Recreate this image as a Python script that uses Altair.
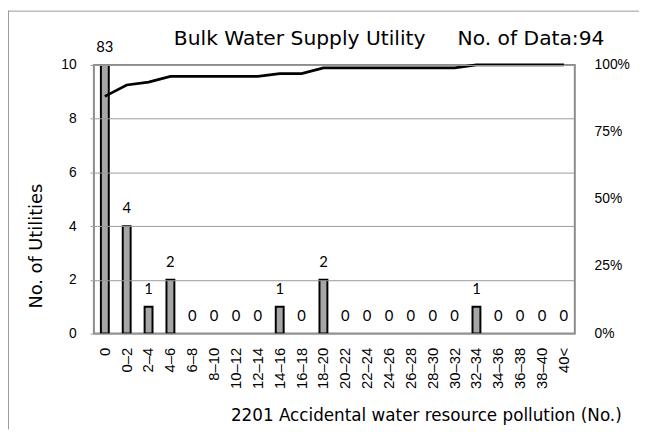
import altair as alt
import pandas as pd

categories = ["0", "0–2", "2–4", "4–6", "6–8", "8–10", "10–12", "12–14", "14–16",
              "16–18", "18–20", "20–22", "22–24", "24–26", "26–28", "28–30",
              "30–32", "32–34", "34–36", "36–38", "38–40", "40<"]
counts = [83, 4, 1, 2, 0, 0, 0, 0, 1, 0, 2, 0, 0, 0, 0, 0, 0, 1, 0, 0, 0, 0]
left_ticks = [0, 2, 4, 6, 8, 10]
grid_values = [2, 4, 6, 8]
right_ticks = [0, 0.25, 0.5, 0.75, 1.0]
right_labels = ["0%", "25%", "50%", "75%", "100%"]
title_text = "Bulk Water Supply Utility\u00a0\u00a0\u00a0\u00a0\u00a0No. of Data:94"
x_title = "2201 Accidental water resource pollution (No.)"
y_title = "No. of Utilities"

YMAX = 10
df = pd.DataFrame({"cat": categories, "count": counts})
df["shown"] = df["count"].clip(upper=YMAX)
# cumulative share, drawn against the right-hand 0–100% axis (mapped onto 0–10)
df["cum"] = df["count"].cumsum() / df["count"].sum() * YMAX

rdf = pd.DataFrame({"y": [v * YMAX for v in right_ticks], "lab": right_labels})

W, H = 487, 272
GRAY = "#8c8c8c"

x_enc = alt.X(
    "cat:N", sort=categories,
    scale=alt.Scale(paddingInner=0, paddingOuter=0),
    axis=alt.Axis(
        title=x_title, labelAngle=-90, ticks=False, labelPadding=14, domain=False,
        grid=False,
        labelFont="Liberation Sans", labelFontSize=15, labelColor="#000",
        titleFont="DejaVu Sans", titleFontSize=17, titleFontWeight="normal",
        titleColor="#000", titleX=534, titleY=83, titleAlign="right",
        titleBaseline="middle",
    ),
)

left_axis = alt.Axis(
    title=y_title, values=left_ticks, grid=True, gridColor="#999999",
    gridWidth=1, gridOpacity=1, zindex=1,
    tickSize=4, tickColor="#a0a0a0", labelPadding=14, domain=False,
    labelFont="Liberation Sans", labelFontSize=14, labelColor="#000",
    titleFont="DejaVu Sans", titleFontSize=18, titleFontWeight="normal",
    titleColor="#000", titleX=-58, titleY=183, titleAlign="center",
    titleBaseline="middle", titleAngle=270,
)
yscale = alt.Scale(domain=[0, YMAX], nice=False)

bars = alt.Chart(df).transform_filter("datum.count > 0").mark_bar(
    size=8, fill="#a6a6a6", stroke="#000", strokeWidth=2, clip=True
).encode(x=x_enc, y=alt.Y("count:Q", scale=yscale, axis=left_axis))

labels = alt.Chart(df).mark_text(
    dy=-18, font="Lato", fontSize=15, color="#000"
).encode(
    x=x_enc,
    y=alt.Y("shown:Q", scale=yscale, axis=left_axis),
    text="count:Q",
)

line = alt.Chart(df).mark_line(color="#000", strokeWidth=2.8).encode(
    x=x_enc, y=alt.Y("cum:Q", scale=yscale, axis=left_axis)
)

rlabels = alt.Chart(rdf).mark_text(
    align="left", baseline="middle", font="Liberation Sans", fontSize=14,
    color="#000"
).encode(
    x=alt.value(W + 20),
    y=alt.Y("y:Q", scale=yscale, axis=left_axis),
    text="lab:N",
)

one = pd.DataFrame({"a": [0]})
frame_top = alt.Chart(one).mark_rule(color="#999999", strokeWidth=1).encode(
    x=alt.value(-87), x2=alt.value(W + 65), y=alt.value(-54.5)
)
frame_left = alt.Chart(one).mark_rule(color="#999999", strokeWidth=1).encode(
    x=alt.value(-86.5), y=alt.value(-55), y2=alt.value(H + 97)
)
title_mark = alt.Chart(one).mark_text(
    align="right", baseline="alphabetic", font="DejaVu Sans", fontSize=20.5,
    color="#000"
).encode(x=alt.value(517), y=alt.value(-20), text=alt.value(title_text))

chart = alt.layer(
    bars, labels, line, rlabels, frame_top, frame_left, title_mark
).properties(
    width=W, height=H,
    autosize=alt.AutoSizeParams(type="none"),
    padding={"left": 87, "top": 55, "right": 65, "bottom": 97},
    background="white",
).configure_view(stroke=GRAY, strokeWidth=2)

chart.save("out.html", embed_options={"renderer": "svg", "actions": False})
